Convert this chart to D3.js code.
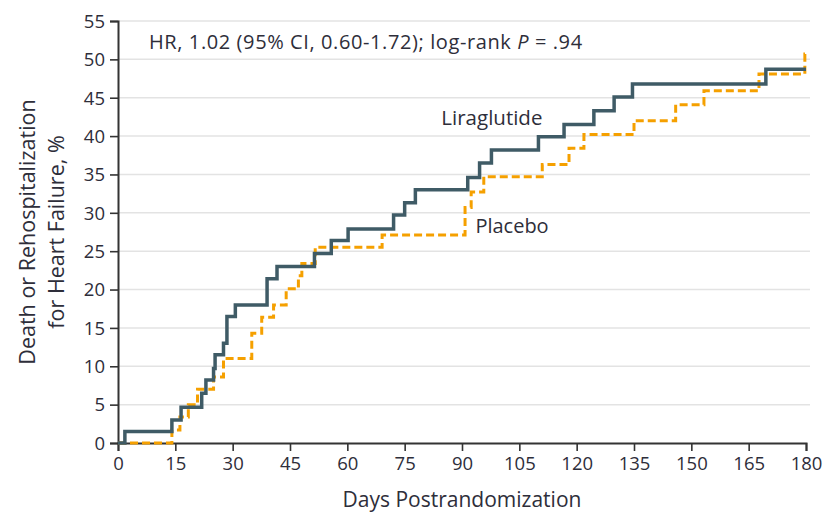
<!DOCTYPE html>
<html><head><meta charset="utf-8">
<script src="https://cdn.jsdelivr.net/npm/d3@7"></script>
<style>
body{margin:0;background:#fff;}
text{font-family:"Open Sans",sans-serif;fill:#2e2e3a;}
</style></head>
<body><svg id="c" width="825" height="515"></svg>
<script>
const xTicks = [0,15,30,45,60,75,90,105,120,135,150,165,180];
const yTicks = [0,5,10,15,20,25,30,35,40,45,50,55];
const liraDays   = [0,1.8,14.1,16.5,21.9,23,25,25.4,27.6,28.5,30.7,39,41.6,51.4,55.8,60.2,72.1,75,77.8,91.5,94.6,97.7,110,116.7,124.5,129.8,134.6,169.5,180];
const liraValues = [0,1.5,3.0,4.65,6.5,8.2,9.7,11.5,13.0,16.5,18.0,21.4,23.0,24.7,26.4,27.9,29.7,31.3,33.0,34.6,36.5,38.2,39.9,41.5,43.3,45.1,46.8,48.7,48.7];
const placDays   = [0,14.1,16.2,18.4,20.8,25,27.6,35,37.6,40.7,44,47.2,48.1,51.6,69.1,90.8,92.4,95.7,111,118,121.9,135,145.9,153.3,167.7,179.7,180];
const placValues = [0,1.7,3.4,5.0,7.0,8.6,11.0,14.3,16.4,18.0,20.1,21.8,23.4,25.5,27.1,30.7,32.7,34.7,36.3,38.4,40.2,42.0,44.1,45.9,48.1,50.7,50.7];
const seriesNames = ["Liraglutide","Placebo"];
const annotation = "HR, 1.02 (95% CI, 0.60-1.72); log-rank ";

const svg = d3.select("#c");
const m = {l:118, t:21, r:19, b:72};
const W = 825, H = 515;
const x = d3.scaleLinear().domain([0,180]).range([m.l, W-m.r]);
const y = d3.scaleLinear().domain([0,55]).range([H-m.b, m.t]);
const FONT = '"Open Sans",sans-serif';

// grid
svg.append("g").selectAll("line").data(yTicks.filter(d=>d>0)).join("line")
  .attr("x1", x(0)).attr("x2", x(180)+4)
  .attr("y1", d=>y(d)).attr("y2", d=>y(d))
  .attr("stroke","#e3e3e3").attr("stroke-width",1.5);

// axes
const xAxis = svg.append("g").attr("transform",`translate(0,${y(0)})`)
  .call(d3.axisBottom(x).tickValues(xTicks).tickSize(8).tickPadding(6).tickFormat(d3.format("d")));
const yAxis = svg.append("g").attr("transform",`translate(${x(0)},0)`)
  .call(d3.axisLeft(y).tickValues(yTicks).tickSize(8).tickPadding(5).tickFormat(d3.format("d")));
[xAxis,yAxis].forEach(g=>{
  g.select(".domain").attr("stroke","#333").attr("stroke-width",2);
  g.selectAll(".tick line").attr("stroke","#333").attr("stroke-width",1.6);
  g.selectAll(".tick text").attr("font-size",18.5).style("fill","#2e2e3a").attr("font-family",FONT);
});
yAxis.selectAll(".tick text").attr("dy","0.34em");

const line = d3.line().x(d=>x(d[0])).y(d=>y(d[1])).curve(d3.curveStepAfter);
const plac = placDays.map((d,i)=>[d,placValues[i]]);
const lira = liraDays.map((d,i)=>[d,liraValues[i]]);

svg.append("path").attr("d",line(plac)).attr("fill","none")
  .attr("stroke","#f5a000").attr("stroke-width",3).attr("stroke-dasharray","8,4");
svg.append("path").attr("d",line(lira)).attr("fill","none")
  .attr("stroke","#3f5b66").attr("stroke-width",3.5).attr("stroke-linejoin","miter");

// annotation
const t = svg.append("text").attr("x",149).attr("y",49).attr("font-size",20).attr("letter-spacing",0.6);
t.append("tspan").text(annotation);
t.append("tspan").attr("font-style","italic").text("P");
t.append("tspan").text(" = .94");

svg.append("text").attr("x",x(84.6)).attr("y",y(41.4)).attr("font-size",20.5).text(seriesNames[0]);
svg.append("text").attr("x",x(93.5)).attr("y",y(27.4)).attr("font-size",20).text(seriesNames[1]);

// axis titles
svg.append("text").attr("x",(x(0)+x(180))/2).attr("y",507).attr("text-anchor","middle")
  .attr("font-size",21).text("Days Postrandomization");
const yl = svg.append("text").attr("transform",`translate(35,232) rotate(-90)`)
  .attr("text-anchor","middle").attr("font-size",21.5);
yl.append("tspan").attr("x",0).attr("y",0).text("Death or Rehospitalization");
yl.append("tspan").attr("x",0).attr("y",29).text("for Heart Failure, %");
</script></body></html>
